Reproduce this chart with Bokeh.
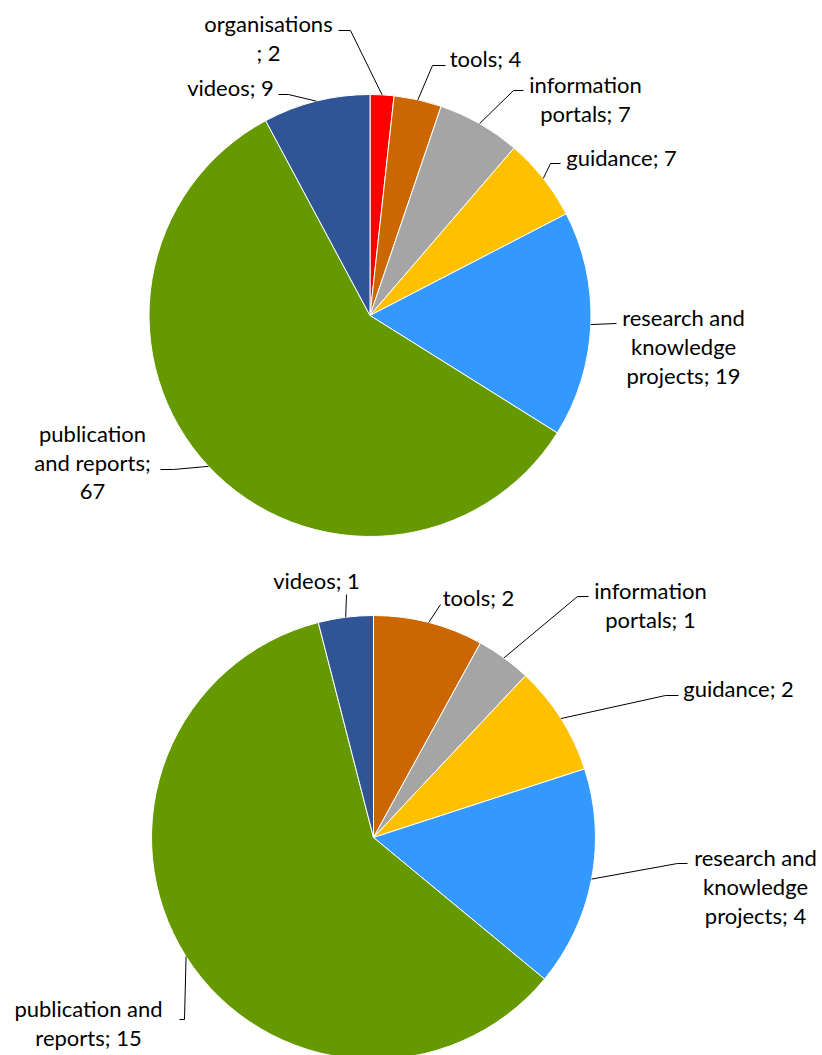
import numpy as np
from bokeh.plotting import figure
from bokeh.models import Range1d, ColumnDataSource
from bokeh.embed import file_html
from bokeh.resources import INLINE
from bokeh.core.properties import value

# ---------------- data ----------------
categories = ["organisations", "tools", "information portals", "guidance",
              "research and knowledge projects", "publication and reports", "videos"]
colors = ["#FF0000", "#CC6600", "#A5A5A5", "#FFC000", "#3399FF", "#669900", "#2F5597"]
values_top = [2, 4, 7, 7, 19, 67, 9]
values_bottom = [0, 2, 1, 2, 4, 15, 1]

# ---------------- layout (picture pixel coordinates) ----------------
W, H = 822, 1055
FONT = "Lato"
FONT_SIZE = "22px"
LINE_STEP = 29

def dx(px):
    return px

def dy(py):
    return H - py

# label layout: lines template, text centre x, first line centre y, elbow points (text side first)
top_layout = {
    "organisations": (["organisations", "; {v}"], 268, 23, [(338, 30), (350, 30)]),
    "tools": (["tools; {v}"], 485, 58, [(445, 65), (432, 65)]),
    "information portals": (["information", "portals; {v}"], 585, 84, [(523, 90), (513, 90)]),
    "guidance": (["guidance; {v}"], 621, 157, [(560, 163), (550, 163)]),
    "research and knowledge projects": (["research and", "knowledge", "projects; {v}"], 683, 317, [(616, 323)]),
    "publication and reports": (["publication", "and reports;", "{v}"], 92, 433, [(160, 469), (173, 469)]),
    "videos": (["videos; {v}"], 230, 87, [(278, 94), (288, 94)]),
}
bottom_layout = {
    "tools": (["tools; {v}"], 478, 597, [(440, 604)]),
    "information portals": (["information", "portals; {v}"], 650, 590, [(588, 596), (577, 596)]),
    "guidance": (["guidance; {v}"], 738, 688, [(678, 695), (665, 695)]),
    "research and knowledge projects": (["research and", "knowledge", "projects; {v}"], 755, 857, [(687, 863), (677, 863)]),
    "publication and reports": (["publication and", "reports; {v}"], 88, 1008, [(179, 1019), (184, 1019)]),
    "videos": (["videos; {v}"], 316, 580, [(346, 594)]),
}

charts = [
    (values_top, (369.5, 315), 221, top_layout),
    (values_bottom, (373, 837), 222, bottom_layout),
]

p = figure(width=W, height=H, output_backend="svg", toolbar_location=None,
           x_range=Range1d(0, W), y_range=Range1d(0, H),
           x_axis_location=None, y_axis_location=None, min_border=0)
p.grid.visible = False
p.outline_line_color = None
p.background_fill_color = "white"
p.border_fill_color = "white"

for vals, (cxp, cyp), r, layout in charts:
    vals = np.array(vals, dtype=float)
    total = vals.sum()
    cum = np.concatenate([[0], np.cumsum(vals)])
    start = np.pi / 2 - 2 * np.pi * cum[:-1] / total
    end = np.pi / 2 - 2 * np.pi * cum[1:] / total
    mid = (start + end) / 2
    keep = vals > 0
    src = ColumnDataSource(dict(
        x=[dx(cxp)] * int(keep.sum()),
        y=[dy(cyp)] * int(keep.sum()),
        start=list(start[keep]), end=list(end[keep]),
        color=[c for c, k in zip(colors, keep) if k],
    ))
    p.wedge(x="x", y="y", radius=r, start_angle="start", end_angle="end",
            direction="clock", fill_color="color", line_color="white",
            line_width=1, source=src)

    tx, ty, tt = [], [], []
    lxs, lys = [], []
    for i, cat in enumerate(categories):
        if vals[i] <= 0 or cat not in layout:
            continue
        lines, cx, y0, elbow = layout[cat]
        for j, ln in enumerate(lines):
            tx.append(dx(cx))
            ty.append(dy(y0 + j * LINE_STEP))
            tt.append(ln.format(v=int(vals[i])))
        ex = dx(cxp) + r * np.cos(mid[i])
        ey = dy(cyp) + r * np.sin(mid[i])
        lxs.append([dx(a) for a, b in elbow] + [ex])
        lys.append([dy(b) for a, b in elbow] + [ey])
    p.multi_line(xs=lxs, ys=lys, line_color="#000000", line_width=1)
    p.text(x=tx, y=ty, text=tt, text_align="center", text_baseline="middle",
           text_font=value(FONT), text_font_size=FONT_SIZE, text_color="#000000")

open("out.html", "w").write(file_html(p, INLINE))
